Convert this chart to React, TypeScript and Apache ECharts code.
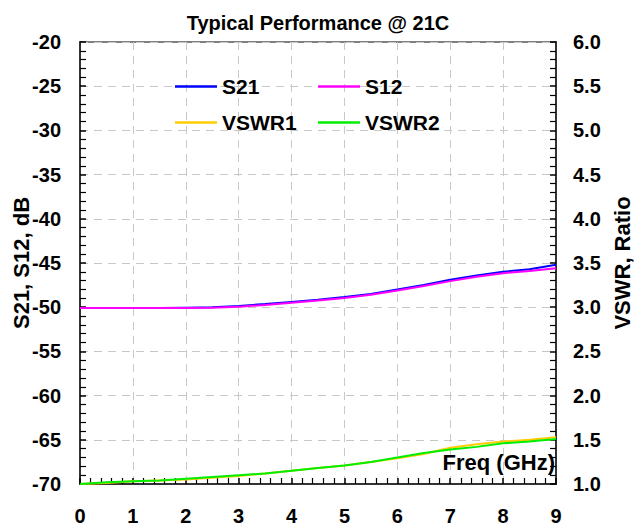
import React, { useEffect, useRef } from "react";
import * as echarts from "echarts";

const freq = [0, 0.5, 1, 1.5, 2, 2.5, 3, 3.5, 4, 4.5, 5, 5.5, 6, 6.5, 7, 7.5, 8, 8.5, 9];
const s21 = [-50.1, -50.1, -50.1, -50.1, -50.05, -50.0, -49.85, -49.65, -49.4, -49.15, -48.85, -48.5, -48.0, -47.5, -46.9, -46.4, -46.0, -45.7, -45.2];
const s12 = [-50.1, -50.1, -50.1, -50.1, -50.1, -50.05, -49.95, -49.75, -49.5, -49.25, -48.95, -48.6, -48.1, -47.6, -47.05, -46.55, -46.15, -45.9, -45.6];
const vswr1 = [1.0, 1.01, 1.03, 1.04, 1.05, 1.07, 1.09, 1.12, 1.15, 1.18, 1.21, 1.25, 1.29, 1.34, 1.41, 1.45, 1.48, 1.5, 1.53];
const vswr2 = [1.0, 1.02, 1.03, 1.04, 1.06, 1.08, 1.1, 1.12, 1.15, 1.18, 1.21, 1.25, 1.3, 1.35, 1.39, 1.42, 1.46, 1.48, 1.51];

const FONT = "Liberation Sans, Arial, sans-serif";

export default function App() {
  const ref = useRef<HTMLDivElement>(null);
  useEffect(() => {
    if (!ref.current) return;
    const chart = echarts.init(ref.current, null, { renderer: "svg" });
    const zip = (ys: number[]) => freq.map((f, i) => [f, ys[i]]);
    const axisLabel = { color: "#000", fontFamily: FONT, fontWeight: "bold", fontSize: 20 };
    const tick = { show: true, inside: true, length: 6, lineStyle: { color: "#000", width: 1.5 } };
    const minorTick = { show: true, splitNumber: 5, length: 6, lineStyle: { color: "#000", width: 1.2 } };
    const legendItem = (name: string, left: number, top: number) => ({
      data: [name],
      left,
      top,
      icon: "rect",
      itemWidth: 42,
      itemHeight: 2.5,
      itemGap: 0,
      textStyle: { color: "#000", fontFamily: FONT, fontWeight: "bold", fontSize: 21 },
    });
    const nameStyle = { color: "#000", fontFamily: FONT, fontWeight: "bold", fontSize: 22 };
    chart.setOption({
      animation: false,
      backgroundColor: "#fff",
      title: {
        text: "Typical Performance @ 21C",
        left: "center",
        top: 8,
        textStyle: { color: "#000", fontFamily: FONT, fontWeight: "bold", fontSize: 20 },
      },
      grid: {
        left: 80,
        right: 80,
        top: 42,
        bottom: 43,
        containLabel: false,
        outerBoundsMode: "none",
        show: true,
        borderColor: "#555",
        borderWidth: 1.5,
      },
      legend: [
        legendItem("S21", 170, 71),
        legendItem("S12", 313, 71),
        legendItem("VSWR1", 170, 107),
        legendItem("VSWR2", 313, 107),
      ],
      xAxis: {
        type: "value",
        min: 0,
        max: 9,
        interval: 1,
        axisLine: { lineStyle: { color: "#333", width: 2 } },
        axisTick: tick,
        minorTick: minorTick,
        axisLabel: { ...axisLabel, margin: 22 },
        splitLine: { show: true, lineStyle: { color: "#c8c8c8", type: [8, 6], width: 1 } },
      },
      yAxis: [
        {
          type: "value",
          min: -70,
          max: -20,
          interval: 5,
          position: "left",
          name: "S21, S12, dB",
          nameLocation: "middle",
          nameGap: 48,
          nameMoveOverlap: false,
          nameTextStyle: nameStyle,
          axisLine: { show: true, lineStyle: { color: "#333", width: 2 } },
          axisTick: tick,
          minorTick: minorTick,
          axisLabel: { ...axisLabel, margin: 19 },
          splitLine: { show: true, lineStyle: { color: "#c8c8c8", type: [8, 6], width: 1 } },
        },
        {
          type: "value",
          min: 1,
          max: 6,
          interval: 0.5,
          position: "right",
          name: "VSWR, Ratio",
          nameLocation: "middle",
          nameGap: 55,
          nameRotate: 90,
          nameMoveOverlap: false,
          nameTextStyle: nameStyle,
          axisLine: { show: true, lineStyle: { color: "#333", width: 2 } },
          axisTick: tick,
          minorTick: minorTick,
          axisLabel: { ...axisLabel, margin: 17, formatter: (v: number) => v.toFixed(1) },
          splitLine: { show: false },
        },
      ],
      graphic: [
        {
          type: "text",
          right: 81,
          top: 451,
          style: { text: "Freq (GHz)", fill: "#000", fontFamily: FONT, fontWeight: "bold", fontSize: 22 },
          z: 100,
        },
      ],
      series: [
        { name: "S21", type: "line", yAxisIndex: 0, data: zip(s21), showSymbol: false, lineStyle: { color: "#0000ff", width: 2 }, itemStyle: { color: "#0000ff" } },
        { name: "S12", type: "line", yAxisIndex: 0, data: zip(s12), showSymbol: false, lineStyle: { color: "#ff00ff", width: 2 }, itemStyle: { color: "#ff00ff" } },
        { name: "VSWR1", type: "line", yAxisIndex: 1, data: zip(vswr1), showSymbol: false, lineStyle: { color: "#ffcc00", width: 2 }, itemStyle: { color: "#ffcc00" } },
        { name: "VSWR2", type: "line", yAxisIndex: 1, data: zip(vswr2), showSymbol: false, lineStyle: { color: "#00ee00", width: 2 }, itemStyle: { color: "#00ee00" } },
      ],
    });
    return () => chart.dispose();
  }, []);
  return <div ref={ref} style={{ position: "absolute", left: 0, top: 0, width: 636, height: 527 }} />;
}
